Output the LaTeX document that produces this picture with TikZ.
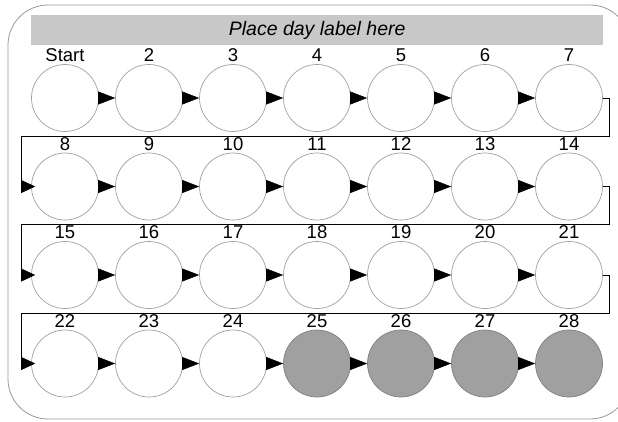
\documentclass[tikz,border=0pt]{standalone}
\usepackage{fontspec}
\setmainfont{Liberation Sans}
\usetikzlibrary{arrows.meta,positioning}
\definecolor{doneGray}{HTML}{A0A0A0}

\begin{document}
\begin{tikzpicture}[x=1pt,y=-1pt,
  day/.style={circle,draw=gray!75,line width=0.7pt,minimum size=67pt,inner sep=0pt},
  daynum/.style={font=\fontsize{18.5}{21}\selectfont,inner sep=0pt},
  arrow/.style={-{Triangle[length=17pt,width=13pt]},line width=0.6pt},
  wrap/.style={-{Triangle[length=14pt,width=13pt]},line width=0.6pt},
]
  \useasboundingbox (0,0) rectangle (618,421);
  \draw[gray!80,line width=0.8pt,rounded corners=40pt] (8,5) rectangle (630,419);
  \node[fill=gray!43,minimum width=572pt,minimum height=30pt,inner sep=0pt,anchor=north west,
    font=\fontsize{19.5}{22}\selectfont\itshape] (title) at (31,15) {Place day label here};

  % the days, seven to a row
  \foreach \i in {1,...,28} {
    \pgfmathtruncatemacro\row{(\i-1)/7}
    \pgfmathtruncatemacro\col{\i-1-7*\row}
    \ifnum\i=1 \def\txt{Start}\else\edef\txt{\i}\fi
    \ifnum\i>24 \def\dayfill{doneGray}\def\dayline{gray}\else\def\dayfill{white}\def\dayline{gray!75}\fi
    \node[day,fill=\dayfill,draw=\dayline,label={[daynum,label distance=2pt]above:\txt}]
      (c\i) at (65+84*\col,98+88.5*\row) {};
  }

  % links, wrapping at the end of each row
  \foreach \i in {1,...,27} {
    \pgfmathtruncatemacro\j{\i+1}
    \pgfmathtruncatemacro\m{mod(\i,7)}
    \ifnum\m=0
      \draw[wrap] (c\i.east) -- ++(6,0) -- ++(0,38) -| ([xshift=-10pt]c\j.west) -- ([xshift=4pt]c\j.west);
    \else
      \draw[arrow] (c\i.east) -- (c\j.west);
    \fi
  }
\end{tikzpicture}
\end{document}
